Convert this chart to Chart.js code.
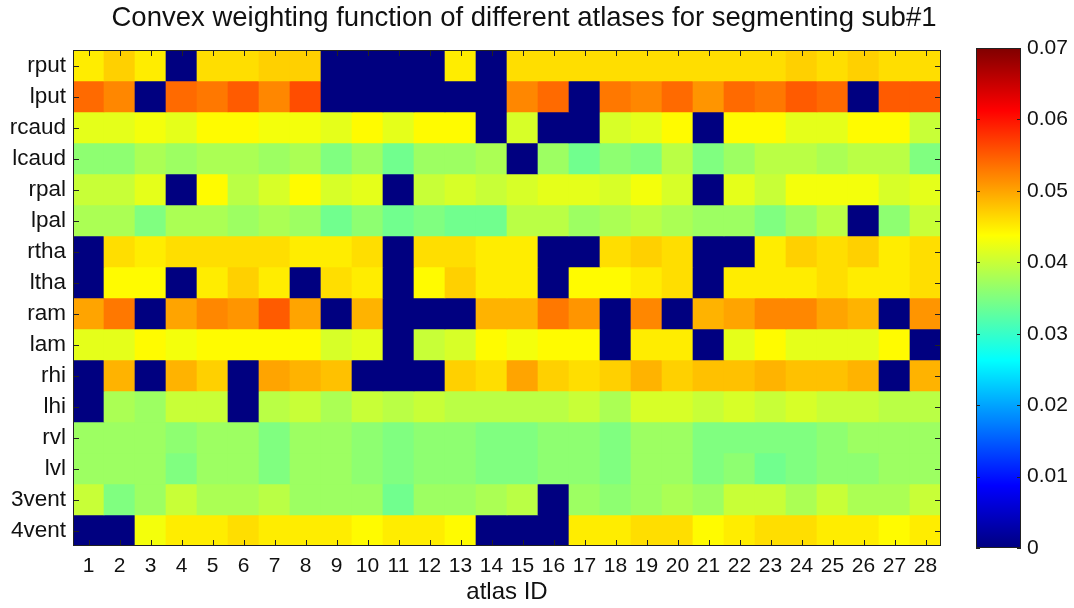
<!DOCTYPE html>
<html>
<head>
<meta charset="utf-8">
<script src="https://cdn.jsdelivr.net/npm/chart.js@4.4.1/dist/chart.umd.min.js"></script>
<style>
  body { margin: 0; background: #fff; }
  #wrap { position: relative; width: 1074px; height: 608px; font-family: "Liberation Sans", Arial, sans-serif; }
  #titulo { position: absolute; left: 0; top: 1px; width: 1048px; text-align: center; font-size: 27.5px; color: #111; white-space: nowrap; }
  #mapa { position: absolute; left: 0; top: 0; width: 1074px; height: 608px; }
  #barra { position: absolute; left: 940px; top: 0; width: 134px; height: 608px; }
</style>
</head>
<body>
<div id="wrap">
  <div id="mapa"><canvas id="heatmap"></canvas></div>
  <div id="barra"><canvas id="colorbar"></canvas></div>
  <div id="titulo">Convex weighting function of different atlases for segmenting sub#1</div>
</div>
<script>
// estructuras (filas de arriba a abajo)
const estructuras = ['rput', 'lput', 'rcaud', 'lcaud', 'rpal', 'lpal', 'rtha', 'ltha',
                     'ram', 'lam', 'rhi', 'lhi', 'rvl', 'lvl', '3vent', '4vent'];
const atlasIds = ['1', '2', '3', '4', '5', '6', '7', '8', '9', '10', '11', '12', '13', '14',
                  '15', '16', '17', '18', '19', '20', '21', '22', '23', '24', '25', '26', '27', '28'];

// pesos por estructura, atlas 1..28
const rput  = [0.045, 0.047, 0.045, 0, 0.046, 0.046, 0.047, 0.047, 0, 0, 0, 0, 0.045, 0, 0.046, 0.046, 0.046, 0.046, 0.046, 0.046, 0.046, 0.046, 0.046, 0.047, 0.046, 0.047, 0.046, 0.046];
const lput  = [0.054, 0.052, 0, 0.054, 0.053, 0.055, 0.052, 0.056, 0, 0, 0, 0, 0, 0, 0.052, 0.054, 0, 0.053, 0.052, 0.054, 0.051, 0.054, 0.053, 0.055, 0.054, 0, 0.055, 0.055];
const rcaud = [0.042, 0.042, 0.043, 0.042, 0.044, 0.044, 0.043, 0.043, 0.042, 0.044, 0.042, 0.044, 0.044, 0, 0.041, 0, 0, 0.041, 0.042, 0.044, 0, 0.044, 0.044, 0.042, 0.042, 0.044, 0.044, 0.040];
const lcaud = [0.036, 0.036, 0.038, 0.037, 0.038, 0.038, 0.037, 0.038, 0.035, 0.037, 0.034, 0.037, 0.037, 0.038, 0, 0.037, 0.034, 0.036, 0.035, 0.039, 0.035, 0.037, 0.039, 0.039, 0.038, 0.039, 0.039, 0.035];
const rpal  = [0.040, 0.040, 0.042, 0, 0.044, 0.039, 0.041, 0.044, 0.041, 0.042, 0, 0.040, 0.041, 0.040, 0.041, 0.042, 0.042, 0.041, 0.043, 0.041, 0, 0.042, 0.040, 0.043, 0.043, 0.043, 0.041, 0.042];
const lpal  = [0.038, 0.038, 0.035, 0.038, 0.038, 0.037, 0.038, 0.037, 0.034, 0.036, 0.034, 0.035, 0.034, 0.034, 0.039, 0.039, 0.037, 0.038, 0.039, 0.038, 0.037, 0.037, 0.035, 0.037, 0.039, 0, 0.036, 0.040];
const rtha  = [0, 0.046, 0.045, 0.046, 0.046, 0.046, 0.046, 0.045, 0.045, 0.046, 0, 0.046, 0.046, 0.045, 0.045, 0, 0, 0.046, 0.047, 0.046, 0, 0, 0.045, 0.047, 0.046, 0.047, 0.045, 0.046];
const ltha  = [0, 0.044, 0.044, 0, 0.045, 0.047, 0.045, 0, 0.046, 0.045, 0, 0.044, 0.047, 0.045, 0.045, 0, 0.044, 0.044, 0.045, 0.046, 0, 0.045, 0.045, 0.045, 0.046, 0.045, 0.045, 0.046];
const ram   = [0.050, 0.053, 0, 0.050, 0.052, 0.051, 0.055, 0.050, 0, 0.049, 0, 0, 0, 0.049, 0.049, 0.053, 0.051, 0, 0.052, 0, 0.049, 0.050, 0.052, 0.052, 0.050, 0.049, 0, 0.051];
const lam   = [0.042, 0.042, 0.044, 0.043, 0.044, 0.044, 0.044, 0.044, 0.041, 0.042, 0, 0.040, 0.041, 0.044, 0.043, 0.044, 0.044, 0, 0.045, 0.045, 0, 0.042, 0.044, 0.042, 0.042, 0.042, 0.044, 0];
const rhi   = [0, 0.049, 0, 0.049, 0.047, 0, 0.050, 0.049, 0.048, 0, 0, 0, 0.047, 0.046, 0.050, 0.047, 0.046, 0.047, 0.049, 0.047, 0.048, 0.048, 0.049, 0.048, 0.048, 0.049, 0, 0.049];
const lhi   = [0, 0.038, 0.037, 0.040, 0.040, 0, 0.039, 0.040, 0.038, 0.040, 0.039, 0.040, 0.039, 0.039, 0.039, 0.039, 0.040, 0.038, 0.041, 0.041, 0.040, 0.041, 0.040, 0.041, 0.040, 0.040, 0.039, 0.039];
const rvl   = [0.037, 0.037, 0.037, 0.036, 0.037, 0.037, 0.035, 0.037, 0.037, 0.036, 0.035, 0.036, 0.036, 0.035, 0.035, 0.036, 0.036, 0.035, 0.037, 0.037, 0.035, 0.035, 0.035, 0.035, 0.036, 0.037, 0.037, 0.037];
const lvl   = [0.037, 0.037, 0.037, 0.035, 0.037, 0.037, 0.035, 0.037, 0.037, 0.036, 0.035, 0.036, 0.036, 0.035, 0.035, 0.036, 0.036, 0.035, 0.037, 0.037, 0.035, 0.036, 0.034, 0.035, 0.036, 0.036, 0.037, 0.037];
const vent3 = [0.040, 0.035, 0.037, 0.040, 0.038, 0.038, 0.039, 0.037, 0.037, 0.037, 0.034, 0.037, 0.037, 0.038, 0.039, 0, 0.037, 0.036, 0.037, 0.038, 0.037, 0.040, 0.040, 0.038, 0.040, 0.038, 0.038, 0.040];
const vent4 = [0, 0, 0.043, 0.045, 0.045, 0.046, 0.045, 0.045, 0.045, 0.044, 0.045, 0.045, 0.044, 0, 0, 0, 0.045, 0.045, 0.046, 0.046, 0.044, 0.045, 0.046, 0.046, 0.045, 0.045, 0.044, 0.045];

const pesos = [rput, lput, rcaud, lcaud, rpal, lpal, rtha, ltha, ram, lam, rhi, lhi, rvl, lvl, vent3, vent4];

// escala de color
const escalaMin = 0;
const escalaMax = 0.07;
const ticksBarra = [0, 0.01, 0.02, 0.03, 0.04, 0.05, 0.06, 0.07];

const fuente = '"Liberation Sans", Arial, sans-serif';

function jet(v) {
    let t = (v - escalaMin) / (escalaMax - escalaMin);
    t = Math.max(0, Math.min(1, t));
    const c = x => Math.round(255 * Math.max(0, Math.min(1, x)));
    const r = c(1.5 - Math.abs(4 * t - 3));
    const g = c(1.5 - Math.abs(4 * t - 2));
    const b = c(1.5 - Math.abs(4 * t - 1));
    return `rgb(${r},${g},${b})`;
}

// marco y marcas hacia dentro, estilo matlab
const marco = {
    id: 'marco',
    afterDraw(chart, args, opts) {
        const ctx = chart.ctx;
        const a = chart.chartArea;
        const L = opts.largo;
        ctx.save();
        ctx.strokeStyle = '#222';
        ctx.lineWidth = 1;
        const linea = (x1, y1, x2, y2) => { ctx.beginPath(); ctx.moveTo(x1, y1); ctx.lineTo(x2, y2); ctx.stroke(); };
        if (opts.marcasX) {
            const xs = chart.scales.x;
            xs.ticks.forEach((t, i) => {
                const px = Math.round(xs.getPixelForTick(i)) + 0.5;
                linea(px, a.top, px, a.top + L);
                linea(px, a.bottom, px, a.bottom - L);
            });
        }
        const ys = chart.scales.y;
        ys.ticks.forEach((t, i) => {
            const py = Math.round(ys.getPixelForTick(i)) + 0.5;
            linea(a.left, py, a.left + L, py);
            linea(a.right, py, a.right - L, py);
        });
        ctx.strokeRect(a.left + 0.5, a.top + 0.5, a.width - 1, a.height - 1);
        ctx.restore();
    }
};

function dibujarMapa() {
    const datasets = estructuras.map((nombre, r) => ({
        label: nombre,
        data: atlasIds.map(() => [r, r + 1]),
        backgroundColor: pesos[r].map(jet),
        borderWidth: 0,
        barPercentage: 1,
        categoryPercentage: 1,
        grouped: false
    }));

    new Chart(document.getElementById('heatmap'), {
        type: 'bar',
        data: { labels: atlasIds, datasets: datasets },
        plugins: [marco],
        options: {
            responsive: true,
            maintainAspectRatio: false,
            animation: false,
            events: [],
            layout: { padding: { top: 50, right: 133, bottom: 0, left: 0 } },
            plugins: {
                legend: { display: false },
                tooltip: { enabled: false },
                marco: { largo: 6, marcasX: true }
            },
            scales: {
                x: {
                    type: 'category',
                    grid: { display: false, drawTicks: false },
                    border: { display: false },
                    ticks: { color: '#111', font: { family: fuente, size: 21 }, padding: 8, maxRotation: 0, autoSkip: false },
                    title: { display: true, text: 'atlas ID', color: '#111', font: { family: fuente, size: 24 }, padding: { top: 0, bottom: 1 } },
                    afterFit: s => { s.height = 62; }
                },
                y: {
                    type: 'linear',
                    min: 0,
                    max: estructuras.length,
                    reverse: true,
                    grid: { display: false, drawTicks: false },
                    border: { display: false },
                    afterBuildTicks: s => { s.ticks = estructuras.map((n, i) => ({ value: i + 0.5 })); },
                    ticks: {
                        color: '#111',
                        font: { family: fuente, size: 22.5 },
                        padding: 7,
                        autoSkip: false,
                        callback: v => estructuras[Math.floor(v)]
                    },
                    afterFit: s => { s.width = 73; }
                }
            }
        }
    });
}

function dibujarBarra() {
    new Chart(document.getElementById('colorbar'), {
        type: 'bar',
        data: {
            labels: [''],
            datasets: [{
                data: [[escalaMin, escalaMax]],
                backgroundColor: (c) => {
                    const a = c.chart.chartArea;
                    if (!a) return '#000080';
                    const g = c.chart.ctx.createLinearGradient(0, a.bottom, 0, a.top);
                    for (let i = 0; i <= 64; i++) {
                        g.addColorStop(i / 64, jet(escalaMin + (escalaMax - escalaMin) * i / 64));
                    }
                    return g;
                },
                borderWidth: 0,
                barPercentage: 1,
                categoryPercentage: 1
            }]
        },
        plugins: [marco],
        options: {
            responsive: true,
            maintainAspectRatio: false,
            animation: false,
            events: [],
            layout: { padding: { top: 48, right: 0, bottom: 60, left: 36 } },
            plugins: {
                legend: { display: false },
                tooltip: { enabled: false },
                marco: { largo: 4, marcasX: false }
            },
            scales: {
                x: { display: false },
                y: {
                    position: 'right',
                    min: escalaMin,
                    max: escalaMax,
                    grid: { display: false, drawTicks: false },
                    border: { display: false },
                    afterBuildTicks: s => { s.ticks = ticksBarra.map(v => ({ value: v })); },
                    ticks: {
                        color: '#111',
                        font: { family: fuente, size: 21 },
                        padding: 6,
                        callback: v => v === 0 ? '0' : v.toFixed(2)
                    },
                    afterFit: s => { s.width = 53; }
                }
            }
        }
    });
}

dibujarMapa();
dibujarBarra();
</script>
</body>
</html>
